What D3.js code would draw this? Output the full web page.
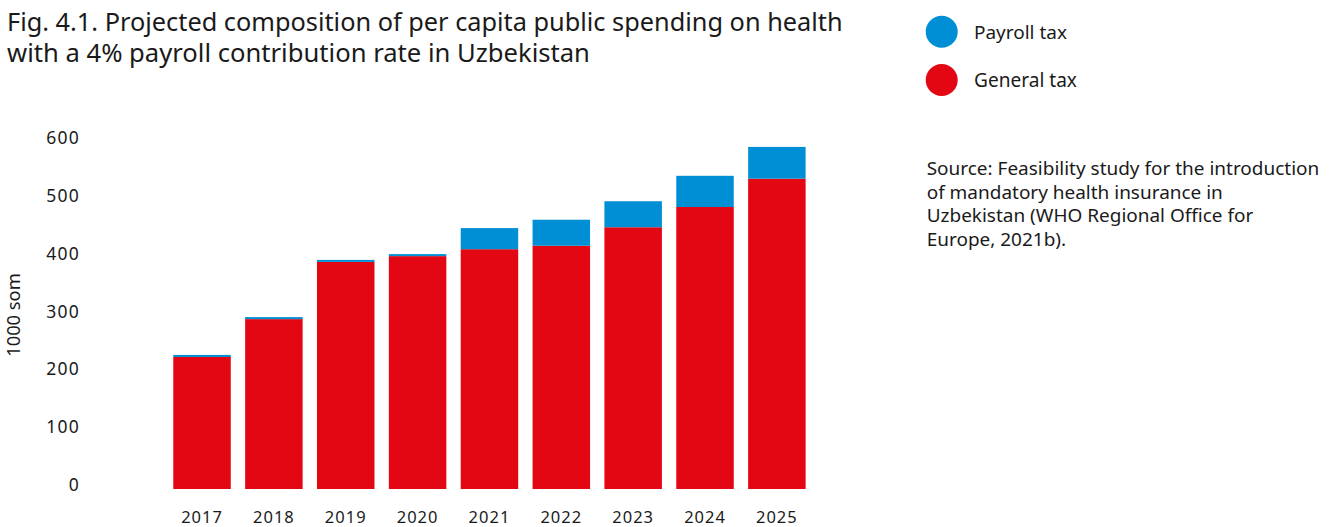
<!DOCTYPE html>
<html>
<head>
<meta charset="utf-8">
<script src="https://cdn.jsdelivr.net/npm/d3@7/dist/d3.min.js"></script>
<style>
  html, body { margin: 0; padding: 0; background: #fff; }
  svg { display: block; font-family: "Noto Sans", "Open Sans", sans-serif; }
</style>
</head>
<body>
<svg id="chart" width="1330" height="527"></svg>
<script>
// ---- data ----
const years = ["2017","2018","2019","2020","2021","2022","2023","2024","2025"];
const generalTax = [228.5, 294, 393, 403, 415, 421, 453, 488, 537];
const payrollTax = [3.5, 3.5, 3.5, 3.5, 36.5, 45, 45, 54, 55];
const yTicks = [0, 100, 200, 300, 400, 500, 600];
const seriesNames = ["General tax", "Payroll tax"];
const legendNames = ["Payroll tax", "General tax"];
const titleLines = [
  "Fig. 4.1. Projected composition of per capita public spending on health",
  "with a 4% payroll contribution rate in Uzbekistan"
];
const sourceLines = [
  "Source: Feasibility study for the introduction",
  "of mandatory health insurance in",
  "Uzbekistan (WHO Regional Office for",
  "Europe, 2021b)."
];
const yLabel = "1000 som";

// ---- styles ----
const colors = { "General tax": "#e30613", "Payroll tax": "#008fd5" };
const textColor = "#1a1a1a";

const svg = d3.select("#chart");

function fitText(sel, targetWidth, baseSize) {
  sel.attr("font-size", baseSize);
  const w = sel.node().getComputedTextLength();
  if (w > 0) sel.attr("font-size", baseSize * targetWidth / w);
}

// ---- title ----
const titleTargets = [836, 583];
const titleBaselines = [31, 62];
titleLines.forEach((t, i) => {
  const el = svg.append("text")
    .attr("x", 7).attr("y", titleBaselines[i])
    .attr("fill", textColor)
    .text(t);
  fitText(el, titleTargets[i], 22);
});

// ---- scales ----
const x = d3.scaleBand().domain(years).range([166.1, 812.8]).paddingInner(0.2).paddingOuter(0.1);
const y = d3.scaleLinear().domain([0, 600]).range([489, 142.3]);

const rows = years.map((yr, i) => ({ year: yr, "General tax": generalTax[i], "Payroll tax": payrollTax[i] }));
const stacked = d3.stack().keys(seriesNames)(rows);

// ---- bars ----
svg.append("g").selectAll("g")
  .data(stacked).join("g")
  .attr("fill", d => colors[d.key])
  .selectAll("rect")
  .data(d => d).join("rect")
  .attr("x", d => x(d.data.year))
  .attr("width", x.bandwidth())
  .attr("y", d => y(d[1]))
  .attr("height", d => y(d[0]) - y(d[1]));

// ---- y axis ----
const yAxis = svg.append("g")
  .attr("transform", "translate(80,0)")
  .call(d3.axisLeft(y).tickValues(yTicks).tickSize(0).tickPadding(0));
yAxis.select(".domain").remove();
yAxis.selectAll("text")
  .attr("dy", "1.5")
  .attr("fill", textColor)
  .attr("font-size", 17.5)
  .attr("letter-spacing", 1.2)
  .attr("font-family", '"Noto Sans", sans-serif');

// ---- x axis ----
const xAxis = svg.append("g")
  .attr("transform", "translate(0,489)")
  .call(d3.axisBottom(x).tickSize(0).tickPadding(0));
xAxis.select(".domain").remove();
xAxis.selectAll("text")
  .attr("y", 33.5).attr("dy", 0)
  .attr("fill", textColor)
  .attr("font-size", 16.5)
  .attr("letter-spacing", 1)
  .attr("font-family", '"Noto Sans", sans-serif');

// ---- y label ----
const yl = svg.append("text")
  .attr("transform", "translate(20,315) rotate(-90)")
  .attr("text-anchor", "middle")
  .attr("fill", textColor)
  .text(yLabel);
fitText(yl, 83.7, 16);

// ---- legend ----
const legendY = [31.7, 80];
const legendTargets = [93, 103];
legendNames.forEach((name, i) => {
  svg.append("circle")
    .attr("cx", 941.7).attr("cy", legendY[i]).attr("r", 16)
    .attr("fill", colors[name]);
  const el = svg.append("text")
    .attr("x", 974).attr("y", legendY[i] + 7)
    .attr("fill", textColor)
    .text(name);
  fitText(el, legendTargets[i], 17.5);
});

// ---- source ----
const sourceBaselines = [175, 198.5, 222, 245.5];
let srcSize = 17;
sourceLines.forEach((t, i) => {
  const el = svg.append("text")
    .attr("x", 926.7).attr("y", sourceBaselines[i])
    .attr("fill", textColor)
    .text(t);
  if (i === 0) { fitText(el, 393, 17); srcSize = +el.attr("font-size"); }
  else el.attr("font-size", srcSize);
});
</script>
</body>
</html>
